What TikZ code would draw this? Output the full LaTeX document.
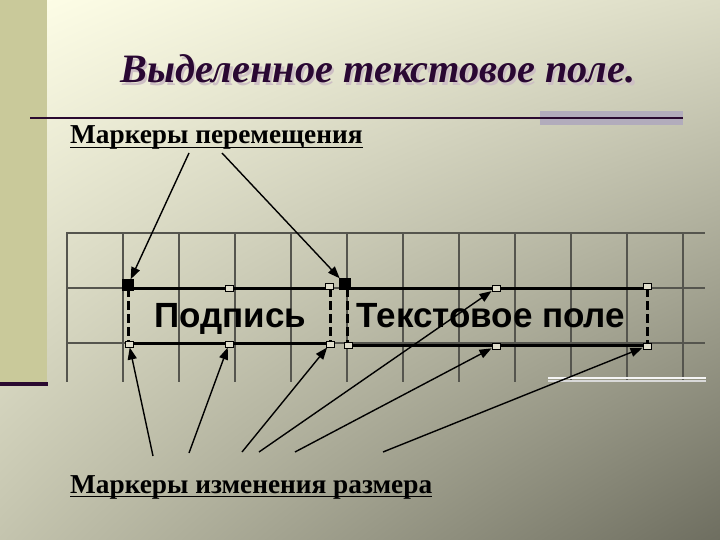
\documentclass[tikz,border=0pt]{standalone}
\usepackage{fontspec}
\setmainfont{Liberation Serif}
\newfontfamily\arialfont{Liberation Sans}
\newfontfamily\ttlfont{Liberation Serif Bold Italic}
\usetikzlibrary{arrows.meta,shadings}
\definecolor{bgTL}{HTML}{FFFFE8}
\definecolor{bgTR}{HTML}{DCDCC6}
\definecolor{bgBL}{HTML}{C4C4AE}
\definecolor{bgBR}{HTML}{6E6E60}
\definecolor{stripc}{HTML}{C9C99A}
\definecolor{purplec}{HTML}{2A0A30}
\definecolor{titlec}{HTML}{2A0833}
\definecolor{shadowc}{HTML}{CDBFC4}
\definecolor{barc}{HTML}{B2ACBC}
\definecolor{gridc}{HTML}{55554E}
\definecolor{handlec}{HTML}{E0DECC}
\tikzset{
  gridline/.style={draw=gridc, line width=1.2pt},
  boxedge/.style={line width=3pt, line cap=butt},
  boxside/.style={line width=3pt, dash pattern=on 9pt off 4pt},
  hnd/.style={draw=black, fill=handlec, line width=1pt, minimum width=8pt, minimum height=6pt, inner sep=0pt},
  hblk/.style={draw=black, fill=black, minimum width=11pt, minimum height=11pt, inner sep=0pt},
  arr/.style={line width=1.4pt, -{Triangle[length=12pt,width=9pt]}},
  lbl/.style={anchor=base west, inner sep=0pt, font=\fontsize{27.3}{27.3}\selectfont\bfseries},
  boxtxt/.style={anchor=base, inner sep=0pt, font=\arialfont\bfseries\fontsize{35}{35}\selectfont},
  titlestyle/.style={anchor=base west, inner sep=0pt, font=\ttlfont\fontsize{40.3}{40.3}\selectfont}
}
\begin{document}
\begin{tikzpicture}[x=1pt,y=-1pt]
\useasboundingbox (0,0) rectangle (720,540);
% background
\shade[upper left=bgTL, upper right=bgTR, lower left=bgBL, lower right=bgBR] (0,0) rectangle (720,540);
\fill[stripc] (0,0) rectangle (47,382);
\fill[purplec] (0,382) rectangle (48,386);
% title
\node[titlestyle, text=shadowc] (titleshadow) at (122.5,85.5) {Выделенное текстовое поле.};
\node[titlestyle, text=titlec] (title) at (120,83) {Выделенное текстовое поле.};
% rule and bar
\fill[barc] (540,111) rectangle (683,125);
\draw[purplec, line width=2.5pt] (30,118) -- (683,118);
% labels
\node[lbl] (mp) at (70,144) {Маркеры перемещения};
\draw[line width=1.8pt] ([yshift=-3.5pt]mp.base west) -- ([yshift=-3.5pt]mp.base east);
\node[lbl] (mr) at (70,493) {Маркеры изменения размера};
\draw[line width=1.8pt] ([yshift=-3.5pt]mr.base west) -- ([yshift=-3.5pt]mr.base east);
% grid
\foreach \yy in {233,288,343} \draw[gridline] (66,\yy) -- (705,\yy);
\foreach \k in {0,...,11} \draw[gridline] (67+56*\k,233) -- (67+56*\k,382);
\draw[white!92!gray, line width=1.6pt] (548,378) -- (706,378);
\draw[white!70!gray, line width=1.2pt] (548,381) -- (706,381);
% box texts
\node[boxtxt] (t1) at (230,327) {Подпись};
\node[boxtxt] (t2) at (491,327) {Текстовое поле};
% box 1 borders
\draw[boxedge] (128,288) -- (330,288);
\draw[boxedge] (128,343) -- (330,343);
\draw[boxside] (128,288) -- (128,343);
\draw[boxside] (330,288) -- (330,343);
% box 2 borders
\draw[boxedge] (347,288) -- (647,288);
\draw[boxedge] (347,345) -- (647,345);
\draw[boxside] (347,288) -- (347,345);
\draw[boxside] (647,288) -- (647,345);
% handles box 1
\node[hblk] (b1tl) at (128,285) {};
\node[hnd] (b1tm) at (229,288) {};
\node[hnd] (b1tr) at (329,286) {};
\node[hnd] (b1bl) at (129,344) {};
\node[hnd] (b1bm) at (229,344) {};
\node[hnd] (b1br) at (330,344) {};
% handles box 2
\node[hblk] (b2tl) at (345,284) {};
\node[hnd] (b2tm) at (496,288) {};
\node[hnd] (b2tr) at (647,286) {};
\node[hnd] (b2bl) at (348,345) {};
\node[hnd] (b2bm) at (496,346) {};
\node[hnd] (b2br) at (647,346) {};
% arrow tails
\coordinate (u1) at (189,153);
\coordinate (u2) at (222,153);
\coordinate (d1) at (153,456);
\coordinate (d2) at (189,453);
\coordinate (d3) at (242,452);
\coordinate (d4) at (259,452);
\coordinate (d5) at (295,452);
\coordinate (d6) at (383,452);
% arrows
\draw[arr] (u1) -- (b1tl);
\draw[arr] (u2) -- (b2tl);
\draw[arr] (d1) -- (b1bl);
\draw[arr] (d2) -- (b1bm);
\draw[arr] (d3) -- (b1br);
\draw[arr] (d4) -- (b2tm);
\draw[arr] (d5) -- (b2bm);
\draw[arr] (d6) -- (b2br);
\end{tikzpicture}
\end{document}
